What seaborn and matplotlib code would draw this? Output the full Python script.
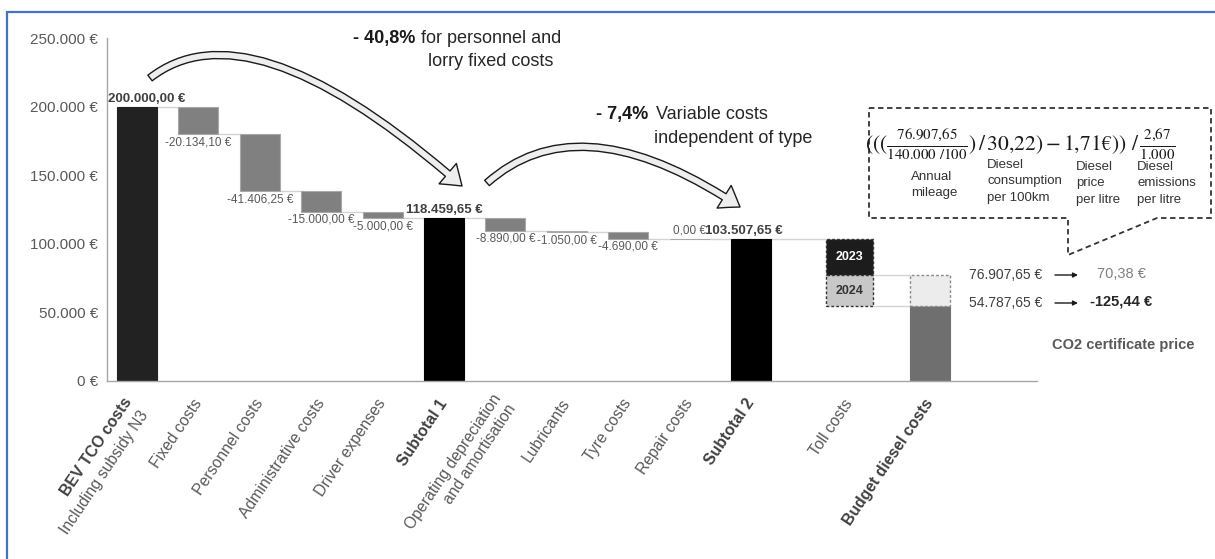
import numpy as np
import pandas as pd
import matplotlib
matplotlib.use("Agg")
import matplotlib.pyplot as plt
import seaborn as sns
from matplotlib.patches import FancyArrowPatch, Polygon
from matplotlib.lines import Line2D
from matplotlib.path import Path

# ---- data -------------------------------------------------------------
categories = [
    "BEV TCO costs",
    "Fixed costs",
    "Personnel costs",
    "Administrative costs",
    "Driver expenses",
    "Subtotal 1",
    "Operating depreciation\nand amortisation",
    "Lubricants",
    "Tyre costs",
    "Repair costs",
    "Subtotal 2",
    "Toll costs",
    "Budget diesel costs",
]
first_subtitle = "Including subsidy N3"
bold_labels = ["Subtotal 1", "Subtotal 2", "Budget diesel costs"]

steps = [200000.00, -20134.10, -41406.25, -15000.00, -5000.00, 118459.65,
         -8890.00, -1050.00, -4690.00, 0.00, 103507.65]
step_kind = ["start", "delta", "delta", "delta", "delta", "total",
             "delta", "delta", "delta", "delta", "total"]

toll_years = ["2023", "2024"]
budget_after_toll = [76907.65, 54787.65]
co2_price = [70.38, -125.44]

y_ticks = [0, 50000, 100000, 150000, 200000, 250000]

note_bold = ["- 40,8%", "- 7,4%"]
note_text = [["for personnel and", "lorry fixed costs"],
             ["Variable costs", "independent of type"]]

formula_terms = ["Annual\nmileage", "Diesel\nconsumption\nper 100km",
                 "Diesel\nprice\nper litre", "Diesel\nemissions\nper litre"]


def eur(v, decimals=2):
    s = f"{v:,.{decimals}f}".replace(",", "X").replace(".", ",").replace("X", ".")
    return s + " €"


# ---- style --------------------------------------------------------------
sns.set_theme(style="white")
plt.rcParams["font.family"] = ["Liberation Sans", "DejaVu Sans"]

W, H = 1215, 559
fig = plt.figure(figsize=(W / 100, H / 100), dpi=100)
ax = fig.add_axes([107 / W, 1 - 381 / H, (1037 - 107) / W, 343 / H])


def fx(px):
    return px / W


def fy(py):
    return 1 - py / H


# ---- waterfall geometry -------------------------------------------------
bar_w = 0.65
pos = list(range(len(steps)))
toll_pos = 11.6
budget_pos = 12.92

bottoms, heights, levels = [], [], []
run = 0.0
for v, k in zip(steps, step_kind):
    if k in ("start", "total"):
        bottoms.append(0.0)
        heights.append(v)
        run = v
    else:
        new = run + v
        bottoms.append(min(run, new))
        heights.append(abs(v))
        run = new
    levels.append(run)

face_map = {"start": "#222222", "total": "#000000", "delta": "#808080"}
edge_map = {"start": "#222222", "total": "#000000", "delta": "#a8a8a8"}
faces = [face_map[k] for k in step_kind] + ["#6f6f6f"]
edges = [edge_map[k] for k in step_kind] + ["#6f6f6f"]

main = pd.DataFrame({
    "pos": pos + [budget_pos],
    "height": heights + [budget_after_toll[-1]],
})
main_bottom = np.array(bottoms + [0.0])

sns.barplot(data=main, x="pos", y="height", native_scale=True, width=bar_w,
            errorbar=None, color="#808080", saturation=1, bottom=main_bottom,
            facecolor=faces, edgecolor=edges, linewidth=0.8, ax=ax)

# toll costs split into the two certificate years
toll_face = ["#1c1c1c", "#c8c8c8"]
toll_txt = ["white", "#333333"]
toll_tops = [levels[-1]] + budget_after_toll[:-1]
for yr, top, bot, fc, tc in zip(toll_years, toll_tops, budget_after_toll, toll_face, toll_txt):
    sns.barplot(x=[toll_pos], y=[top - bot], native_scale=True, width=0.77,
                errorbar=None, color=fc, saturation=1, bottom=bot,
                edgecolor="#333333", linestyle=(0, (2, 1.5)), linewidth=1.0,
                ax=ax)
    ax.text(toll_pos, (top + bot) / 2, yr, ha="center", va="center",
            fontsize=9, fontweight="bold", color=tc)

# budget headroom above the diesel budget bar
sns.barplot(x=[budget_pos], y=[budget_after_toll[0] - budget_after_toll[1]],
            native_scale=True, width=0.65, errorbar=None, color="#ececec",
            saturation=1, bottom=budget_after_toll[1], edgecolor="#8a8a8a",
            linestyle=(0, (2, 1.5)), linewidth=1.0, ax=ax)

# connector lines between consecutive bars
conn = dict(color="#d3d3d3", lw=1.0, zorder=0.5)
for i in range(len(steps) - 1):
    ax.hlines(levels[i], pos[i] + bar_w / 2, pos[i + 1] - bar_w / 2, **conn)
ax.hlines(levels[-1], pos[-1] + bar_w / 2, toll_pos - 0.385, **conn)
for lv in budget_after_toll:
    ax.hlines(lv, toll_pos + 0.385, budget_pos - bar_w / 2, **conn)

# value labels
label_dx = {0: 0.15, 10: -0.11}
for i, (v, k) in enumerate(zip(steps, step_kind)):
    x = pos[i] + label_dx.get(i, 0)
    if k in ("start", "total"):
        ax.annotate(eur(v), (x, bottoms[i] + heights[i]), xytext=(0, 1.5),
                    textcoords="offset points", ha="center", va="bottom",
                    fontsize=9.5, fontweight="bold", color="#404040")
    elif v == 0:
        ax.annotate(eur(v), (x, levels[i]), xytext=(0, 1.5),
                    textcoords="offset points", ha="center", va="bottom",
                    fontsize=8.5, color="#595959")
    else:
        ax.annotate(eur(v), (x, bottoms[i]), xytext=(0, -1.5),
                    textcoords="offset points", ha="center", va="top",
                    fontsize=8.5, color="#595959")

# ---- axes ------------------------------------------------------------------
xlab_size = 11.3
xlab_rot = 56
ax.set_xlim(-0.489, 14.658)
ax.set_ylim(0, 250000)
ax.set_yticks(y_ticks)
ax.set_yticklabels([eur(t, 0) for t in y_ticks])
ax.set_xticks(pos + [toll_pos, budget_pos])
ax.set_xticklabels([""] + categories[1:])
ax.set_xlabel("")
ax.set_ylabel("")
ax.tick_params(axis="both", length=0)
ax.tick_params(axis="y", labelsize=11, labelcolor="#595959", pad=6.5)
ax.tick_params(axis="x", labelsize=xlab_size, labelcolor="#595959", pad=14)
for lbl in ax.get_xticklabels():
    lbl.set_rotation(xlab_rot)
    lbl.set_ha("right")
    lbl.set_va("center")
    lbl.set_rotation_mode("anchor")
    lbl.set_multialignment("right")
    if lbl.get_text() in bold_labels:
        lbl.set_fontweight("bold")
        lbl.set_color("#404040")

# first category carries a bold title and a plain subtitle line
xaxis_tf = ax.get_xaxis_transform()
for txt, off, wt, col in [(categories[0], (-6.2, -12.7), "bold", "#404040"),
                          (first_subtitle, (5.8, -22.4), "normal", "#595959")]:
    ax.annotate(txt, (pos[0], 0), xycoords=xaxis_tf, xytext=off,
                textcoords="offset points", rotation=xlab_rot,
                rotation_mode="anchor", ha="right", va="center",
                fontsize=xlab_size, fontweight=wt, color=col,
                annotation_clip=False)

for side in ("top", "right"):
    ax.spines[side].set_visible(False)
for side in ("left", "bottom"):
    ax.spines[side].set_color("#a6a6a6")
    ax.spines[side].set_linewidth(1.0)


# ---- curved block arrows ------------------------------------------------
def to_data(px, py):
    return ((px - 137) / 61.4, (381 - py) / 68.6 * 50000)


arrow_style = "simple,head_length=0.85,head_width=1.2,tail_width=0.32"
for pts in [[(150, 78), (250, 0), (462, 186)],
            [(487, 183), (580, 100), (740, 207)]]:
    path = Path([to_data(*p) for p in pts],
                [Path.MOVETO, Path.CURVE3, Path.CURVE3])
    ax.add_patch(FancyArrowPatch(path=path, arrowstyle=arrow_style,
                                 mutation_scale=16, facecolor="#eeeeee",
                                 edgecolor="#1a1a1a", lw=1.0, clip_on=False,
                                 zorder=4))

# ---- arrow notes --------------------------------------------------------------
note_layout = [(415, 421, 428, 43, 66), (648, 656, 654, 119, 143)]
for b, (l1, l2), (xb, x1, x2, y1, y2) in zip(note_bold, note_text, note_layout):
    fig.text(fx(xb), fy(y1), b, ha="right", va="baseline", fontsize=13,
             fontweight="bold", color="#1a1a1a")
    fig.text(fx(x1), fy(y1), l1, ha="left", va="baseline", fontsize=13,
             color="#262626")
    fig.text(fx(x2), fy(y2), l2, ha="left", va="baseline", fontsize=13,
             color="#262626")

# ---- CO2 price callout --------------------------------------------------------
callout = [(869, 108), (1211, 108), (1211, 218), (1157, 218), (1068, 255),
           (1068, 218), (869, 218)]
fig.patches.append(Polygon([(fx(x), fy(y)) for x, y in callout], closed=True,
                           transform=fig.transFigure, fill=False,
                           edgecolor="#333333", lw=1.3, linestyle=(0, (3, 2))))

formula = (r"$(((\frac{76.907{,}65}{140.000\ /100})\,/\,30{,}22)-1{,}71€))"
           r"\ /\,\frac{2{,}67}{1.000}$")
fig.text(fx(1020), fy(144), formula, ha="center", va="center", fontsize=15.5,
         color="#1a1a1a", math_fontfamily="stix")

for term, (xl, yc) in zip(formula_terms, [(911, 185), (987, 181), (1076, 183), (1137, 183)]):
    fig.text(fx(xl), fy(yc), term, ha="left", va="center", fontsize=9.5,
             color="#333333", linespacing=1.5)

# budget values and resulting certificate prices
for lv, price, yc, wt, col in zip(budget_after_toll, co2_price, [275, 303],
                                  ["normal", "bold"], ["#808080", "#262626"]):
    fig.text(fx(1042), fy(yc), eur(lv), ha="right", va="center", fontsize=10,
             color="#404040")
    fig.patches.append(FancyArrowPatch((fx(1055), fy(yc)), (fx(1078), fy(yc)),
                                       transform=fig.transFigure,
                                       arrowstyle="-|>", mutation_scale=7,
                                       color="#1a1a1a", lw=1.0,
                                       shrinkA=0, shrinkB=0))
    fig.text(fx(1121), fy(yc - 1), eur(price), ha="center", va="center",
             fontsize=10.5, fontweight=wt, color=col)

fig.text(fx(1123), fy(345), "CO2 certificate price", ha="center", va="center",
         fontsize=10.5, fontweight="bold", color="#595959")

# ---- slide frame ------------------------------------------------------------
frame = dict(color="#4472c4", lw=1.6, transform=fig.transFigure)
fig.add_artist(Line2D([fx(7), 1], [fy(12), fy(12)], **frame))
fig.add_artist(Line2D([fx(7), fx(7)], [fy(12), 0], **frame))

fig.savefig("out.png", dpi=100)
